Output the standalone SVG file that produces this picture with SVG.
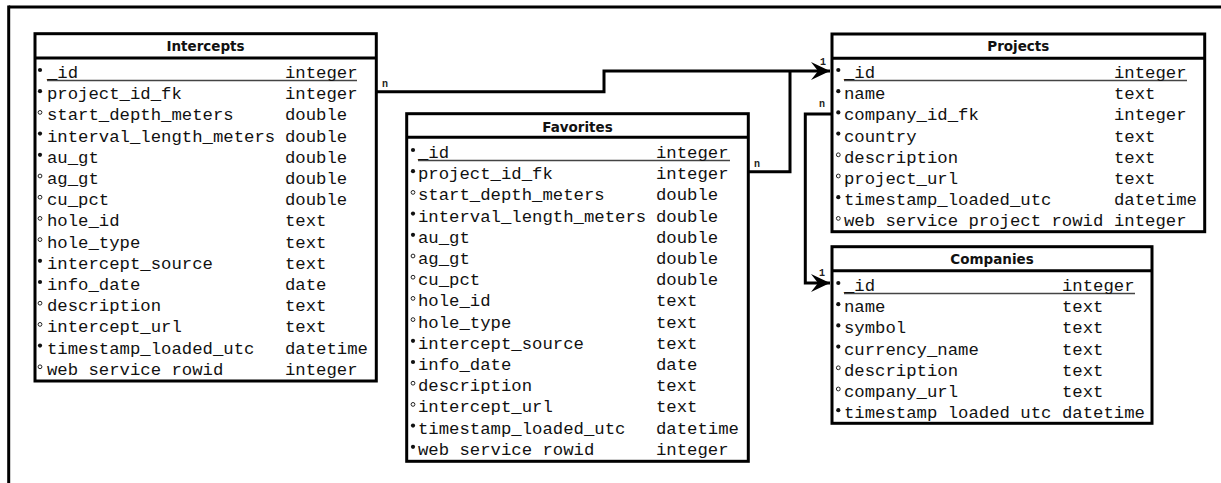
<svg xmlns="http://www.w3.org/2000/svg" xmlns:xlink="http://www.w3.org/1999/xlink" width="1221" height="483" viewBox="0 0 1221 483">
<style>
.box{fill:#fff;stroke:#000;stroke-width:3}
.sep{stroke:#000;stroke-width:3}
.hd{font-family:"DejaVu Sans",Verdana,sans-serif;font-weight:bold;font-size:13.5px;fill:#111;text-anchor:middle}
.f{font-family:"Liberation Mono","Courier New",monospace;font-size:17.3px;fill:#111}
.pk{stroke:#444;stroke-width:1.5}
.con{fill:none;stroke:#000;stroke-width:3}
.lb{font-family:"Liberation Mono","Courier New",monospace;font-weight:bold;font-size:10px;fill:#222}
.frame{stroke:#000;stroke-width:3}
</style>
<defs>
<circle id="bf" cx="0" cy="0" r="2.1" fill="#111"/>
<circle id="bo" cx="0" cy="0" r="1.9" fill="#fff" stroke="#222" stroke-width="1"/>
<marker id="arr" markerUnits="userSpaceOnUse" markerWidth="20" markerHeight="20" refX="19" refY="10" orient="auto">
<path d="M0,1 L19,10 L0,19 L7,10 Z" fill="#000"/>
</marker>
</defs>
<rect width="1221" height="483" fill="#fff"/>
<line class="frame" x1="8.7" y1="7" x2="1221" y2="7"/>
<line class="frame" x1="8.7" y1="5.5" x2="8.7" y2="483"/>

<g id="connectors">
<polyline class="con" points="376.3,91.7 604,91.7 604,71 830,71" marker-end="url(#arr)"/>
<polyline class="con" points="748.3,171.7 790,171.7 790,71"/>
<polyline class="con" points="832,114 805.3,114 805.3,283 830,283" marker-end="url(#arr)"/>
<text class="lb" x="382" y="86.7">n</text>
<text class="lb" x="754" y="166.7">n</text>
<text class="lb" x="820" y="65">1</text>
<text class="lb" x="819" y="107.3">n</text>
<text class="lb" x="819" y="275.7">1</text>
</g>

<g id="intercepts">
<rect class="box" x="35" y="33.7" width="341.3" height="347.3"/>
<line class="sep" x1="35" y1="58" x2="376.3" y2="58"/>
<text class="hd" x="205.5" y="51">Intercepts</text>
<line class="pk" x1="47" y1="80.5" x2="357" y2="80.5"/>
<use xlink:href="#bf" x="40" y="70"/>
<use xlink:href="#bf" x="40" y="91.2"/>
<use xlink:href="#bo" x="40" y="112.4"/>
<use xlink:href="#bf" x="40" y="133.6"/>
<use xlink:href="#bf" x="40" y="154.8"/>
<use xlink:href="#bo" x="40" y="176"/>
<use xlink:href="#bo" x="40" y="197.2"/>
<use xlink:href="#bo" x="40" y="218.4"/>
<use xlink:href="#bo" x="40" y="239.6"/>
<use xlink:href="#bf" x="40" y="260.8"/>
<use xlink:href="#bf" x="40" y="282"/>
<use xlink:href="#bo" x="40" y="303.2"/>
<use xlink:href="#bo" x="40" y="324.4"/>
<use xlink:href="#bf" x="40" y="345.6"/>
<use xlink:href="#bo" x="40" y="366.8"/>
<text class="f" x="47" y="78">_id</text><text class="f" x="285" y="78">integer</text>
<text class="f" x="47" y="99.2">project_id_fk</text><text class="f" x="285" y="99.2">integer</text>
<text class="f" x="47" y="120.4">start_depth_meters</text><text class="f" x="285" y="120.4">double</text>
<text class="f" x="47" y="141.6">interval_length_meters</text><text class="f" x="285" y="141.6">double</text>
<text class="f" x="47" y="162.8">au_gt</text><text class="f" x="285" y="162.8">double</text>
<text class="f" x="47" y="184">ag_gt</text><text class="f" x="285" y="184">double</text>
<text class="f" x="47" y="205.2">cu_pct</text><text class="f" x="285" y="205.2">double</text>
<text class="f" x="47" y="226.4">hole_id</text><text class="f" x="285" y="226.4">text</text>
<text class="f" x="47" y="247.6">hole_type</text><text class="f" x="285" y="247.6">text</text>
<text class="f" x="47" y="268.8">intercept_source</text><text class="f" x="285" y="268.8">text</text>
<text class="f" x="47" y="290">info_date</text><text class="f" x="285" y="290">date</text>
<text class="f" x="47" y="311.2">description</text><text class="f" x="285" y="311.2">text</text>
<text class="f" x="47" y="332.4">intercept_url</text><text class="f" x="285" y="332.4">text</text>
<text class="f" x="47" y="353.6">timestamp_loaded_utc</text><text class="f" x="285" y="353.6">datetime</text>
<text class="f" x="47" y="374.8">web service rowid</text><text class="f" x="285" y="374.8">integer</text>
</g>

<g id="favorites">
<rect class="box" x="406.7" y="113.7" width="341.6" height="347.6"/>
<line class="sep" x1="406.7" y1="137.3" x2="748.3" y2="137.3"/>
<text class="hd" x="577.5" y="132">Favorites</text>
<line class="pk" x1="418" y1="160.5" x2="730" y2="160.5"/>
<use xlink:href="#bf" x="413" y="150"/>
<use xlink:href="#bf" x="413" y="171.2"/>
<use xlink:href="#bo" x="413" y="192.4"/>
<use xlink:href="#bf" x="413" y="213.6"/>
<use xlink:href="#bf" x="413" y="234.8"/>
<use xlink:href="#bo" x="413" y="256"/>
<use xlink:href="#bo" x="413" y="277.2"/>
<use xlink:href="#bo" x="413" y="298.4"/>
<use xlink:href="#bo" x="413" y="319.6"/>
<use xlink:href="#bf" x="413" y="340.8"/>
<use xlink:href="#bf" x="413" y="362"/>
<use xlink:href="#bo" x="413" y="383.2"/>
<use xlink:href="#bo" x="413" y="404.4"/>
<use xlink:href="#bf" x="413" y="425.6"/>
<use xlink:href="#bf" x="413" y="446.8"/>
<text class="f" x="418" y="158">_id</text><text class="f" x="656" y="158">integer</text>
<text class="f" x="418" y="179.2">project_id_fk</text><text class="f" x="656" y="179.2">integer</text>
<text class="f" x="418" y="200.4">start_depth_meters</text><text class="f" x="656" y="200.4">double</text>
<text class="f" x="418" y="221.6">interval_length_meters</text><text class="f" x="656" y="221.6">double</text>
<text class="f" x="418" y="242.8">au_gt</text><text class="f" x="656" y="242.8">double</text>
<text class="f" x="418" y="264">ag_gt</text><text class="f" x="656" y="264">double</text>
<text class="f" x="418" y="285.2">cu_pct</text><text class="f" x="656" y="285.2">double</text>
<text class="f" x="418" y="306.4">hole_id</text><text class="f" x="656" y="306.4">text</text>
<text class="f" x="418" y="327.6">hole_type</text><text class="f" x="656" y="327.6">text</text>
<text class="f" x="418" y="348.8">intercept_source</text><text class="f" x="656" y="348.8">text</text>
<text class="f" x="418" y="370">info_date</text><text class="f" x="656" y="370">date</text>
<text class="f" x="418" y="391.2">description</text><text class="f" x="656" y="391.2">text</text>
<text class="f" x="418" y="412.4">intercept_url</text><text class="f" x="656" y="412.4">text</text>
<text class="f" x="418" y="433.6">timestamp_loaded_utc</text><text class="f" x="656" y="433.6">datetime</text>
<text class="f" x="418" y="454.8">web service rowid</text><text class="f" x="656" y="454.8">integer</text>
</g>

<g id="projects">
<rect class="box" x="832" y="34" width="372.7" height="197.7"/>
<line class="sep" x1="832" y1="58.3" x2="1204.7" y2="58.3"/>
<text class="hd" x="1018.3" y="51">Projects</text>
<line class="pk" x1="844" y1="80.5" x2="1187" y2="80.5"/>
<use xlink:href="#bf" x="838.3" y="70"/>
<use xlink:href="#bf" x="838.3" y="91.2"/>
<use xlink:href="#bf" x="838.3" y="112.4"/>
<use xlink:href="#bf" x="838.3" y="133.6"/>
<use xlink:href="#bo" x="838.3" y="154.8"/>
<use xlink:href="#bo" x="838.3" y="176"/>
<use xlink:href="#bf" x="838.3" y="197.2"/>
<use xlink:href="#bo" x="838.3" y="218.4"/>
<text class="f" x="844" y="78">_id</text><text class="f" x="1114" y="78">integer</text>
<text class="f" x="844" y="99.2">name</text><text class="f" x="1114" y="99.2">text</text>
<text class="f" x="844" y="120.4">company_id_fk</text><text class="f" x="1114" y="120.4">integer</text>
<text class="f" x="844" y="141.6">country</text><text class="f" x="1114" y="141.6">text</text>
<text class="f" x="844" y="162.8">description</text><text class="f" x="1114" y="162.8">text</text>
<text class="f" x="844" y="184">project_url</text><text class="f" x="1114" y="184">text</text>
<text class="f" x="844" y="205.2">timestamp_loaded_utc</text><text class="f" x="1114" y="205.2">datetime</text>
<text class="f" x="844" y="226.4">web service project rowid</text><text class="f" x="1114" y="226.4">integer</text>
</g>

<g id="companies">
<rect class="box" x="832" y="246.7" width="320" height="176.6"/>
<line class="sep" x1="832" y1="270.8" x2="1152" y2="270.8"/>
<text class="hd" x="992" y="264">Companies</text>
<line class="pk" x1="844" y1="293.5" x2="1135" y2="293.5"/>
<use xlink:href="#bf" x="838.3" y="283"/>
<use xlink:href="#bf" x="838.3" y="304.2"/>
<use xlink:href="#bf" x="838.3" y="325.4"/>
<use xlink:href="#bf" x="838.3" y="346.6"/>
<use xlink:href="#bo" x="838.3" y="367.8"/>
<use xlink:href="#bo" x="838.3" y="389"/>
<use xlink:href="#bf" x="838.3" y="410.2"/>
<text class="f" x="844" y="291">_id</text><text class="f" x="1062" y="291">integer</text>
<text class="f" x="844" y="312.2">name</text><text class="f" x="1062" y="312.2">text</text>
<text class="f" x="844" y="333.4">symbol</text><text class="f" x="1062" y="333.4">text</text>
<text class="f" x="844" y="354.6">currency_name</text><text class="f" x="1062" y="354.6">text</text>
<text class="f" x="844" y="375.8">description</text><text class="f" x="1062" y="375.8">text</text>
<text class="f" x="844" y="397">company_url</text><text class="f" x="1062" y="397">text</text>
<text class="f" x="844" y="418.2">timestamp loaded utc</text><text class="f" x="1062" y="418.2">datetime</text>
</g>
</svg>
